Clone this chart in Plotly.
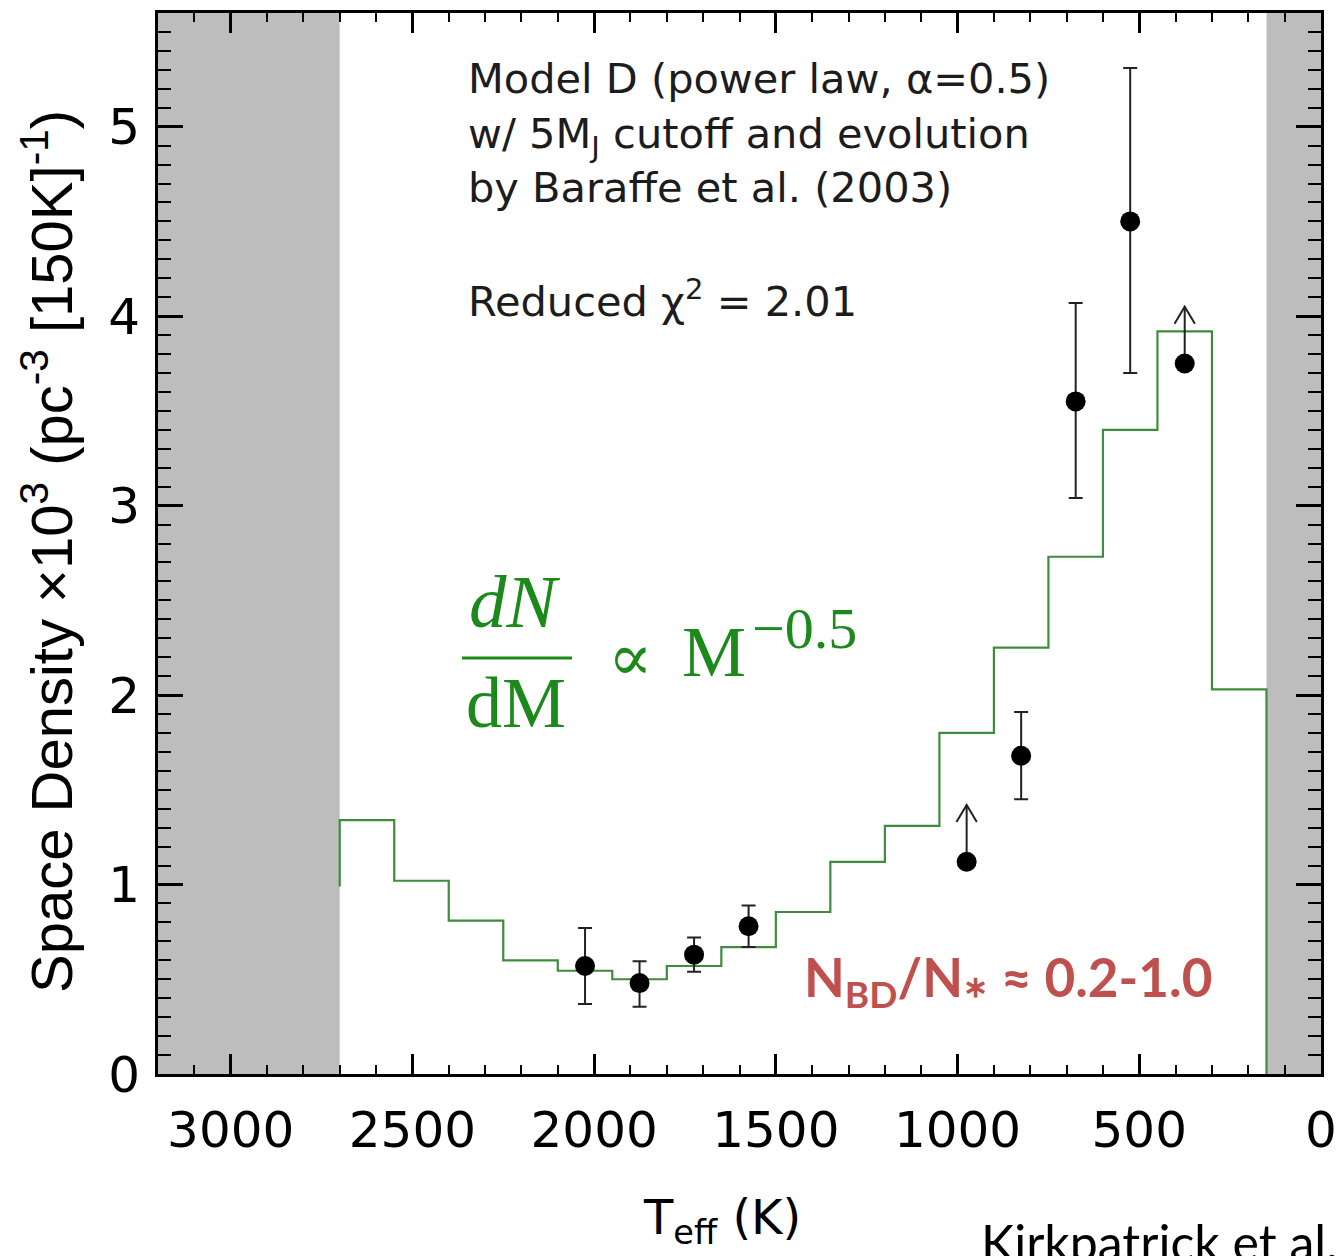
import plotly.graph_objects as go

# ---------------- data ----------------
# histogram model (Model D), bins of 150 K, listed from hot to cold
bin_edges = [2700, 2550, 2400, 2250, 2100, 1950, 1800, 1650, 1500, 1350,
             1200, 1050, 900, 750, 600, 450, 300, 150]
model_vals = [1.34, 1.02, 0.81, 0.60, 0.545, 0.50, 0.57, 0.67, 0.855, 1.12,
              1.31, 1.80, 2.25, 2.73, 3.40, 3.92, 2.03]
model_left_base = 0.99

# measured space densities with error bars
pts_T = [2025, 1875, 1725, 1575, 825, 675, 525]
pts_y = [0.57, 0.48, 0.63, 0.78, 1.68, 3.55, 4.50]
err_hi = [0.20, 0.115, 0.09, 0.11, 0.23, 0.52, 0.81]
err_lo = [0.20, 0.125, 0.09, 0.11, 0.23, 0.51, 0.80]

# lower limits
lim_T = [975, 375]
lim_y = [1.12, 3.75]
lim_len = [0.30, 0.30]

# excluded (shaded) temperature ranges
shade_ranges = [(3200, 2700), (150, 0)]

x_range = [3200, 0]
y_range = [0, 5.6]
x_ticks = [3000, 2500, 2000, 1500, 1000, 500, 0]
y_ticks = [0, 1, 2, 3, 4, 5]

GREEN = "#3f8c3f"
TXT = "#1c1c1c"

fig = go.Figure()

# shaded regions
for a, b in shade_ranges:
    fig.add_shape(type="rect", xref="x", yref="y", x0=a, x1=b, y0=y_range[0], y1=y_range[1],
                  fillcolor="#bdbdbd", line_width=0, layer="below")

# step histogram
xs = [bin_edges[0]]
ys = [model_left_base]
for i, v in enumerate(model_vals):
    xs += [bin_edges[i], bin_edges[i + 1]]
    ys += [v, v]
xs += [bin_edges[-1]]
ys += [0]
fig.add_trace(go.Scatter(x=xs, y=ys, mode="lines", line=dict(color=GREEN, width=2.2),
                         hoverinfo="skip", showlegend=False))

# data points
fig.add_trace(go.Scatter(
    x=pts_T, y=pts_y, mode="markers",
    marker=dict(color="black", size=20),
    error_y=dict(type="data", symmetric=False, array=err_hi, arrayminus=err_lo,
                 color="#222222", thickness=2, width=7),
    showlegend=False))

# lower limits: shaft + chevron + dot
head_dx = 28
head_dy = 0.09
for t, y, Ln in zip(lim_T, lim_y, lim_len):
    tip = y + Ln
    fig.add_trace(go.Scatter(x=[t, t], y=[y, tip], mode="lines",
                             line=dict(color="#222222", width=2), showlegend=False))
    fig.add_trace(go.Scatter(x=[t + head_dx, t, t - head_dx], y=[tip - head_dy, tip, tip - head_dy],
                             mode="lines", line=dict(color="#222222", width=2), showlegend=False))
fig.add_trace(go.Scatter(x=lim_T, y=lim_y, mode="markers",
                         marker=dict(color="black", size=20), showlegend=False))

tickfont = dict(family="DejaVu Sans", size=50, color="black")
fig.update_xaxes(range=x_range, tickvals=x_ticks, ticktext=[str(v) for v in x_ticks],
                 ticks="inside", ticklen=20, tickwidth=2.5, tickcolor="black",
                 showline=True, linecolor="black", linewidth=3, mirror="allticks",
                 showgrid=False, zeroline=False, tickfont=tickfont, ticklabelstandoff=10,
                 ticklabeloverflow="allow", automargin=False,
                 minor=dict(dtick=100, tick0=0, ticks="inside", ticklen=9, tickwidth=2,
                            tickcolor="black", showgrid=False))
fig.update_yaxes(range=y_range, tickvals=y_ticks, ticktext=[str(v) for v in y_ticks],
                 ticks="inside", ticklen=25, tickwidth=2.5, tickcolor="black",
                 showline=True, linecolor="black", linewidth=3, mirror="allticks",
                 showgrid=False, zeroline=False, tickfont=tickfont, ticklabelstandoff=5,
                 ticklabeloverflow="allow", automargin=False,
                 minor=dict(dtick=0.1, tick0=0, ticks="inside", ticklen=13, tickwidth=2,
                            tickcolor="black", showgrid=False))

L, R, T, B = 158, 15, 13, 182
W, H = 1336, 1256
pw, ph = W - L - R, H - T - B


def px(xp):
    return (xp - L) / pw


def py(yp):
    return (H - B - yp) / ph


ann = []
lab = dict(family="DejaVu Sans", size=41.5, color=TXT)
for txt, yc in [("Model D (power law, α=0.5)", 79),
                ("w/ 5M<sub>J</sub> cutoff and evolution", 136),
                ("by Baraffe et al. (2003)", 187),
                ("Reduced χ<sup>2</sup> = 2.01", 299)]:
    ann.append(dict(text=txt, x=px(466), y=py(yc), xref="paper", yref="paper",
                    xanchor="left", yanchor="middle", showarrow=False, font=lab))

serif = "Liberation Serif, DejaVu Serif, serif"
MG = "#1b8a1b"
ann.append(dict(text="<i>dN</i>", x=px(515), y=py(601), xref="paper", yref="paper",
                xanchor="center", yanchor="middle", showarrow=False,
                font=dict(family=serif, size=75, color=MG)))
ann.append(dict(text="dM", x=px(516), y=py(703), xref="paper", yref="paper",
                xanchor="center", yanchor="middle", showarrow=False,
                font=dict(family=serif, size=72, color=MG)))
ann.append(dict(text="∝", x=px(630), y=py(658), xref="paper", yref="paper",
                xanchor="center", yanchor="middle", showarrow=False,
                font=dict(family="DejaVu Serif, serif", size=66, color=MG)))
ann.append(dict(text="M", x=px(680), y=py(652), xref="paper", yref="paper",
                xanchor="left", yanchor="middle", showarrow=False,
                font=dict(family=serif, size=72, color=MG)))
ann.append(dict(text="−0.5", x=px(750), y=py(628), xref="paper", yref="paper",
                xanchor="left", yanchor="middle", showarrow=False,
                font=dict(family=serif, size=58, color=MG)))
fig.add_shape(type="line", xref="paper", yref="paper", x0=px(462), x1=px(572),
              y0=py(658), y1=py(658), line=dict(color=MG, width=3))

ann.append(dict(text="<b>N<sub>BD</sub>/N<span style='font-size:30px'>∗</span> ≈ 0.2-1.0</b>",
                x=px(802), y=py(980),
                xref="paper", yref="paper", xanchor="left", yanchor="middle", showarrow=False,
                font=dict(family="Lato", size=53, color="#C0504D")))
ann.append(dict(text="Kirkpatrick et al.", x=px(979), y=py(1242), xref="paper", yref="paper",
                xanchor="left", yanchor="middle", showarrow=False,
                font=dict(family="Lato", size=50, color="black")))

ann.append(dict(text="Space Density ×10<sup>3</sup> (pc<sup>-3</sup> [150K]<sup>-1</sup>)",
                x=px(47), y=py(552), xref="paper", yref="paper", textangle=-90,
                xanchor="center", yanchor="middle", showarrow=False,
                font=dict(family="Liberation Sans", size=58, color="black")))
ann.append(dict(text="T<sub>eff</sub> (K)", x=px(722), y=py(1220), xref="paper", yref="paper",
                xanchor="center", yanchor="middle", showarrow=False,
                font=dict(family="DejaVu Sans", size=48, color="black")))

fig.update_layout(width=W, height=H, margin=dict(l=L, r=R, t=T, b=B, autoexpand=False),
                  paper_bgcolor="white", plot_bgcolor="white",
                  annotations=ann, showlegend=False)

fig.write_html("out.html")
